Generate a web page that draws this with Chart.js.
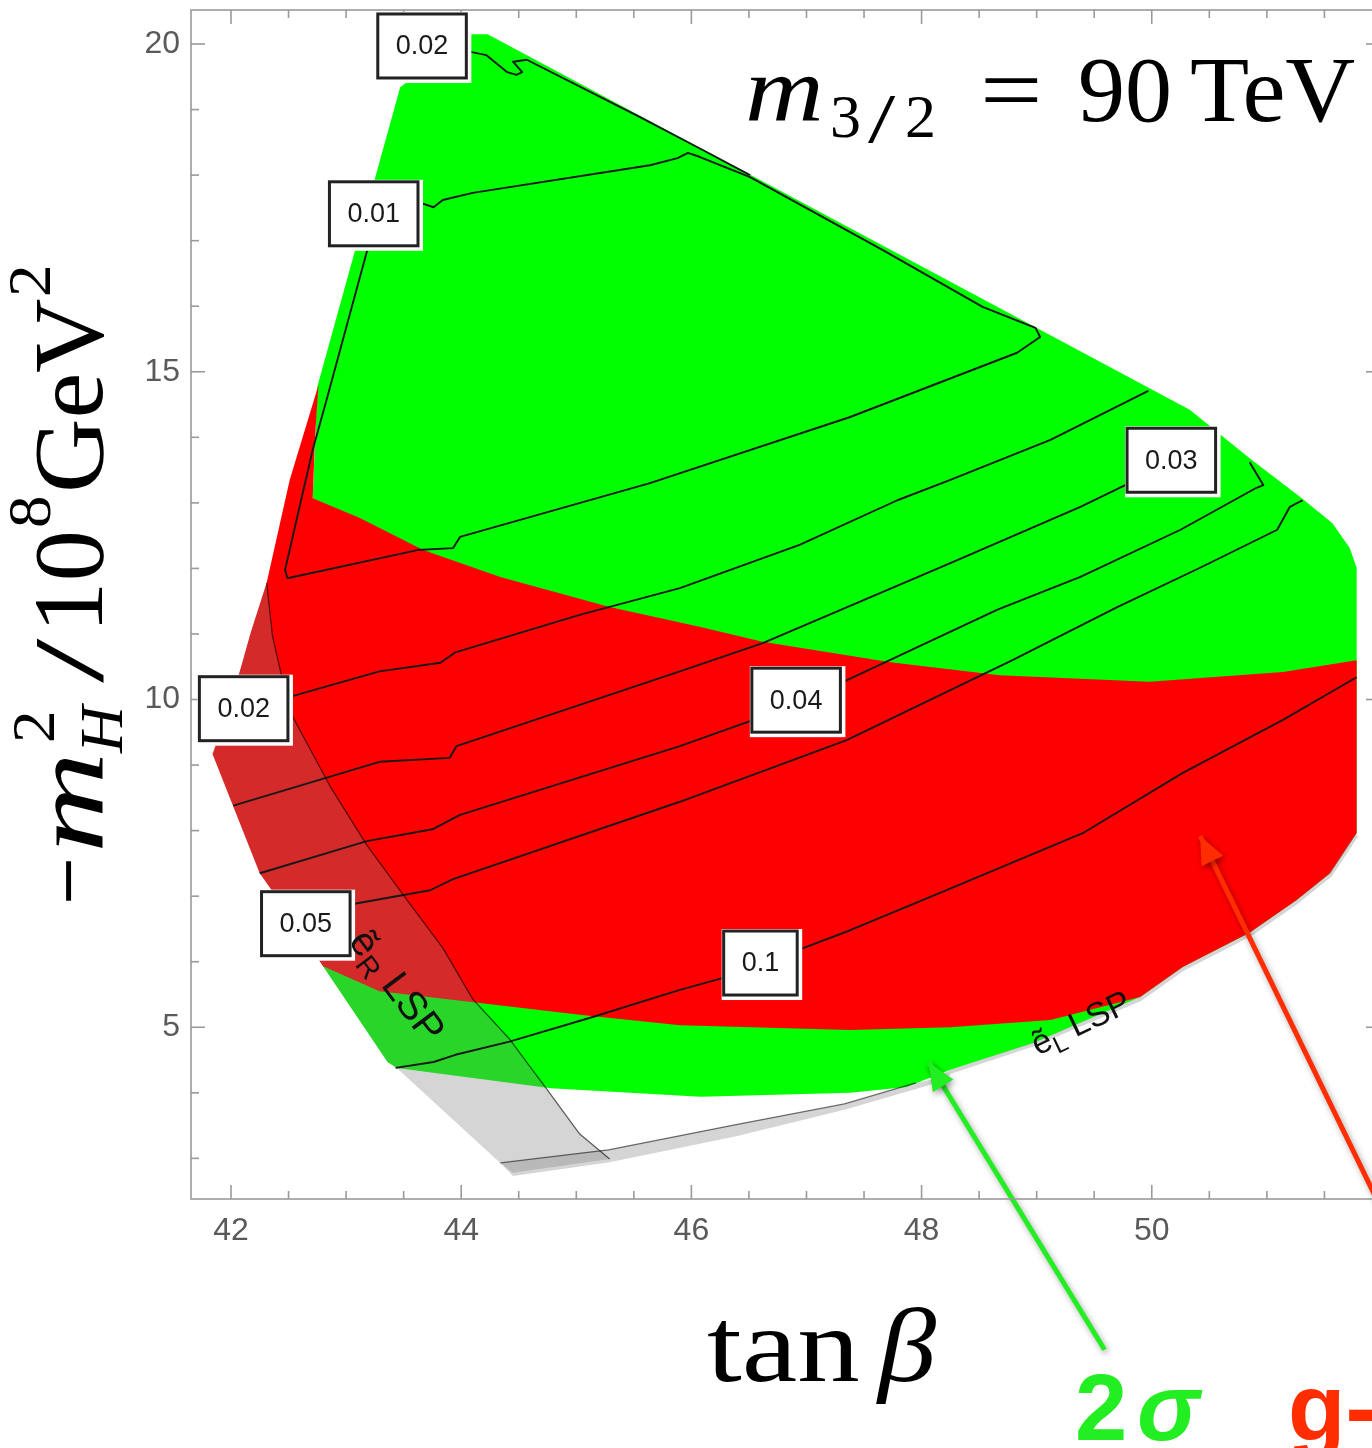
<!DOCTYPE html>
<html>
<head>
<meta charset="utf-8">
<script src="https://cdn.jsdelivr.net/npm/chart.js@4.4.0/dist/chart.umd.min.js"></script>
<style>
  html, body { margin: 0; padding: 0; background: #fff; overflow: hidden; }
</style>
</head>
<body>
<canvas id="regionChart" width="1380" height="1448"></canvas>
<script>
// outlines as [tan beta, -m_H^2 / 10^8 GeV^2]
const greenRegion = [
    [43.47, 19.34], [44.08, 20.15], [44.23, 20.15], [50.33, 14.42], [50.85, 13.68], [51.29, 13.09],
    [51.57, 12.69], [51.72, 12.31], [51.78, 12.01], [51.78, 7.96], [51.55, 7.35], [51.26, 6.94],
    [50.85, 6.44], [50.27, 5.92], [49.90, 5.46], [48.97, 4.76], [48.25, 4.35], [47.87, 4.09],
    [47.38, 4.00], [46.08, 3.94], [44.78, 4.07], [43.44, 4.38], [43.36, 4.47], [42.80, 5.93],
    [42.71, 13.07], [42.75, 14.77]
];
const redRegion = [
    [42.76, 14.80], [42.51, 13.35], [42.31, 11.78], [42.17, 11.01], [42.08, 10.45], [41.95, 9.69],
    [41.84, 9.17], [41.99, 8.50], [42.25, 7.35], [42.51, 6.70], [42.80, 5.93], [43.29, 5.55],
    [44.16, 5.37], [45.03, 5.19], [45.90, 5.03], [47.38, 4.96], [48.25, 5.00], [49.12, 5.11],
    [49.90, 5.46], [50.27, 5.92], [50.85, 6.44], [51.26, 6.94], [51.55, 7.35], [51.78, 7.96],
    [51.78, 10.60], [51.14, 10.42], [49.98, 10.27], [48.68, 10.37], [47.73, 10.57], [46.62, 10.88],
    [46.07, 11.11], [45.29, 11.41], [44.34, 11.87], [43.67, 12.28], [43.12, 12.77], [42.71, 13.07],
    [42.73, 14.00]
];
// selectron-R LSP corner (grey shading)
const stauRegion = [
    [42.31, 11.78], [42.36, 10.97], [42.51, 9.82], [42.86, 8.68], [43.18, 7.78], [43.53, 6.94],
    [43.84, 6.21], [44.10, 5.43], [44.42, 4.82], [44.75, 4.04], [45.03, 3.37], [45.29, 2.99],
    [44.45, 2.78], [44.34, 2.93], [43.44, 4.38], [43.36, 4.47], [42.80, 5.93], [42.51, 6.70],
    [42.25, 7.35], [41.99, 8.50], [41.84, 9.17], [41.95, 9.69], [42.08, 10.45], [42.17, 11.01]
];
const lspLine = [
    [42.31, 11.78], [42.36, 10.97], [42.51, 9.82], [42.86, 8.68], [43.18, 7.78], [43.53, 6.94],
    [43.84, 6.21], [44.10, 5.43], [44.42, 4.82], [44.75, 4.04], [45.03, 3.37], [45.29, 2.99]
];
const lowerBand = [
    [44.34, 2.93], [45.28, 3.13], [46.40, 3.52], [47.33, 3.83], [47.95, 4.15], [48.16, 4.23],
    [48.13, 4.15], [47.33, 3.74], [46.40, 3.34], [45.29, 2.94], [44.45, 2.73]
];
const bandEdge = [[44.34, 2.93], [45.28, 3.13], [46.40, 3.52], [47.33, 3.83], [47.95, 4.15]];
const outerEdge = [
    [48.13, 4.17], [48.25, 4.32], [48.97, 4.74], [49.90, 5.43], [50.27, 5.89], [50.85, 6.41],
    [51.26, 6.91], [51.55, 7.32], [51.78, 7.93]
];

// contour lines
const contourTop002 = [
    [43.82, 19.98], [44.08, 19.88], [44.22, 19.83], [44.40, 19.57], [44.48, 19.53], [44.53, 19.57],
    [44.45, 19.73], [44.57, 19.76], [45.55, 18.89], [46.07, 18.41], [46.51, 18.00]
];
const contour001 = [
    [42.49, 11.85], [43.62, 12.28], [43.93, 12.31], [43.99, 12.48], [45.64, 13.30], [47.38, 14.31],
    [48.83, 15.29], [49.03, 15.53], [48.99, 15.67], [48.53, 15.99], [47.66, 16.86], [46.51, 17.97],
    [46.07, 18.28], [45.97, 18.34], [45.88, 18.26], [45.64, 18.15], [44.10, 17.73], [43.84, 17.62],
    [43.76, 17.51], [43.66, 17.57], [43.38, 17.39], [43.18, 16.83], [42.83, 14.57], [42.71, 13.81],
    [42.47, 11.98], [42.49, 11.85]
];
const contour002 = [
    [42.17, 9.92], [42.51, 10.04], [43.29, 10.43], [43.82, 10.56], [43.95, 10.72], [44.10, 10.80],
    [45.03, 11.29], [45.90, 11.70], [46.94, 12.36], [47.79, 13.04], [48.25, 13.35], [49.12, 13.96],
    [49.97, 14.71]
];
const contour003 = [
    [42.02, 8.38], [43.29, 9.05], [43.90, 9.11], [43.96, 9.29], [45.90, 10.43], [46.62, 10.86],
    [48.25, 12.08], [49.38, 12.94], [50.25, 13.68]
];
const contour004 = [
    [42.25, 7.35], [43.18, 7.84], [43.75, 8.02], [43.99, 8.24], [45.90, 9.29], [46.54, 9.69],
    [47.32, 10.27], [48.66, 11.37], [49.38, 11.87], [50.25, 12.59], [50.91, 13.23], [50.97, 13.27],
    [50.85, 13.62]
];
const contour005 = [
    [42.86, 6.83], [43.06, 6.88], [43.73, 7.09], [43.93, 7.26], [45.90, 8.44], [47.35, 9.38],
    [48.79, 10.60], [49.70, 11.41], [50.42, 12.01], [51.09, 12.59], [51.20, 12.94], [51.31, 13.04]
];
const contour01 = [
    [43.43, 4.38], [43.76, 4.47], [43.95, 4.58], [44.42, 4.78], [45.15, 5.16], [45.90, 5.57],
    [46.27, 5.75], [46.93, 6.18], [47.38, 6.48], [48.16, 7.05], [49.40, 7.96], [50.27, 8.88],
    [51.14, 9.69], [51.78, 10.34]
];

const contourLabels = ['0.02', '0.01', '0.03', '0.02', '0.04', '0.05', '0.1'];
const contourLabelX = [43.66, 43.24, 50.17, 42.11, 46.91, 42.65, 46.60];
const contourLabelY = [19.97, 17.41, 13.65, 9.86, 9.99, 6.58, 5.98];

const lspSubscripts = ['R', 'L'];
const lspLabelX = [43.45, 49.38];
const lspLabelY = [5.64, 5.08];

// annotation arrows: [tail, tip]
const greenArrow = [[49.59, 0.08], [48.06, 4.47]];
const redArrow = [[52.33, 1.02], [50.42, 7.92]];

const xTickValues = [42, 44, 46, 48, 50];
const xMinorTicks = [42.5, 43, 43.5, 44.5, 45, 45.5, 46.5, 47, 47.5, 48.5, 49, 49.5, 50.5, 51, 51.5];
const yTickValues = [5, 10, 15, 20];
const yMinorTicks = [3, 4, 6, 7, 8, 9, 11, 12, 13, 14, 16, 17, 18, 19];

const GREEN = '#00ff00';
const RED = '#ff0000';
const SHADE = 'rgba(128,128,128,0.33)';
const SERIF = '"Liberation Serif", "Times New Roman", serif';
const SANS = '"Liberation Sans", Arial, sans-serif';

const toXY = pts => pts.map(p => ({x: p[0], y: p[1]}));

function region(label, pts, color, order) {
    return {
        label: label, data: toXY(pts), fill: 'shape', backgroundColor: color,
        borderColor: 'rgba(0,0,0,0)', borderWidth: 0, pointRadius: 0, order: order
    };
}

function curve(label, pts, color, width, order) {
    return {
        label: label, data: toXY(pts), fill: false, borderColor: color,
        borderWidth: width, pointRadius: 0, order: order, borderJoinStyle: 'round'
    };
}

function arrow(label, pts, color) {
    return {
        label: label, data: toXY(pts), fill: false, borderColor: color, backgroundColor: color,
        borderWidth: 5, pointRadius: 0, order: 1, clip: false, arrow: true
    };
}

function piece(ctx, text, font, x, y, sx) {
    ctx.save();
    ctx.font = font;
    ctx.translate(x, y);
    ctx.scale(sx || 1, 1);
    ctx.textAlign = 'left';
    ctx.textBaseline = 'alphabetic';
    ctx.fillText(text, 0, 0);
    ctx.restore();
}

function drawBox(ctx, text, cx, cy) {
    ctx.font = '27px ' + SANS;
    const w = ctx.measureText(text).width + 36;
    const h = 64;
    const x0 = cx - w / 2, y0 = cy - h / 2;
    ctx.fillStyle = '#fff';
    ctx.fillRect(x0 - 2, y0 - 2, w + 7, h + 7);
    ctx.strokeStyle = '#222';
    ctx.lineWidth = 3;
    ctx.strokeRect(x0, y0, w, h);
    ctx.fillStyle = '#1a1a1a';
    ctx.textAlign = 'center';
    ctx.textBaseline = 'middle';
    ctx.fillText(text, cx, cy + 1);
}

function drawLsp(ctx, cx, cy, angle, sub, size) {
    const big = size + 'px ' + SANS, small = Math.round(size * 0.72) + 'px ' + SANS;
    ctx.save();
    ctx.translate(cx, cy);
    ctx.rotate(angle);
    ctx.font = big;
    const w1 = ctx.measureText('ẽ').width;
    const w3 = ctx.measureText(' LSP').width;
    ctx.font = small;
    const w2 = ctx.measureText(sub).width;
    let x = -(w1 + w2 + w3) / 2;
    ctx.fillStyle = '#111';
    ctx.textAlign = 'left';
    ctx.textBaseline = 'alphabetic';
    ctx.font = big; ctx.fillText('ẽ', x, size * 0.35); x += w1;
    ctx.font = small; ctx.fillText(sub, x, size * 0.56); x += w2;
    ctx.font = big; ctx.fillText(' LSP', x, size * 0.35);
    ctx.restore();
}

const decorPlugin = {
    id: 'decor',
    beforeDatasetDraw(chart, args) {
        if (chart.data.datasets[args.index].arrow) {
            const ctx = chart.ctx;
            ctx.save();
            ctx.shadowColor = 'rgba(0,0,0,0.35)';
            ctx.shadowBlur = 6;
            ctx.shadowOffsetX = 2;
            ctx.shadowOffsetY = 3;
        }
    },
    afterDatasetDraw(chart, args) {
        const ds = chart.data.datasets[args.index];
        if (!ds.arrow) return;
        const ctx = chart.ctx;
        const pts = args.meta.data;
        const tail = pts[pts.length - 2], tip = pts[pts.length - 1];
        const ang = Math.atan2(tip.y - tail.y, tip.x - tail.x);
        const len = 28, half = 12;
        ctx.fillStyle = ds.borderColor;
        ctx.beginPath();
        ctx.moveTo(tip.x, tip.y);
        ctx.lineTo(tip.x - len * Math.cos(ang) + half * Math.sin(ang), tip.y - len * Math.sin(ang) - half * Math.cos(ang));
        ctx.lineTo(tip.x - len * Math.cos(ang) - half * Math.sin(ang), tip.y - len * Math.sin(ang) + half * Math.cos(ang));
        ctx.closePath();
        ctx.fill();
        ctx.restore();
    },
    afterDraw(chart) {
        const {ctx, chartArea: a} = chart;
        const xs = chart.scales.x, ys = chart.scales.y;

        // frame with inward ticks
        ctx.save();
        ctx.strokeStyle = '#9a9a9a';
        ctx.lineWidth = 1.6;
        ctx.strokeRect(a.left, a.top, a.right - a.left, a.bottom - a.top);
        const tick = (px, py, dx, dy) => {
            ctx.beginPath(); ctx.moveTo(px, py); ctx.lineTo(px + dx, py + dy); ctx.stroke();
        };
        xTickValues.forEach(v => { const p = xs.getPixelForValue(v); tick(p, a.bottom, 0, -14); tick(p, a.top, 0, 14); });
        xMinorTicks.forEach(v => { const p = xs.getPixelForValue(v); tick(p, a.bottom, 0, -8); tick(p, a.top, 0, 8); });
        yTickValues.forEach(v => { const p = ys.getPixelForValue(v); tick(a.left, p, 14, 0); tick(a.right, p, -14, 0); });
        yMinorTicks.forEach(v => { const p = ys.getPixelForValue(v); tick(a.left, p, 8, 0); tick(a.right, p, -8, 0); });
        ctx.restore();

        // contour labels
        ctx.save();
        contourLabels.forEach((t, i) => {
            drawBox(ctx, t, xs.getPixelForValue(contourLabelX[i]), ys.getPixelForValue(contourLabelY[i]));
        });
        drawLsp(ctx, xs.getPixelForValue(lspLabelX[0]), ys.getPixelForValue(lspLabelY[0]), 0.925, lspSubscripts[0], 40);
        drawLsp(ctx, xs.getPixelForValue(lspLabelX[1]), ys.getPixelForValue(lspLabelY[1]), -0.447, lspSubscripts[1], 34);
        ctx.restore();

        // m_{3/2} = 90 TeV
        ctx.save();
        ctx.fillStyle = '#000';
        piece(ctx, 'm', 'italic 94px ' + SERIF, 745, 121, 1.16);
        piece(ctx, '3', '62px ' + SERIF, 830, 137);
        piece(ctx, '/', '70px ' + SERIF, 868, 142, 1.4);
        piece(ctx, '2', '62px ' + SERIF, 905, 137);
        piece(ctx, '=', '94px ' + SERIF, 980, 121, 1.18);
        piece(ctx, '90', '94px ' + SERIF, 1078, 121);
        piece(ctx, 'TeV', '94px ' + SERIF, 1190, 121, 1.03);

        // x title
        piece(ctx, 'tan', '106px ' + SERIF, 707, 1381, 1.18);
        piece(ctx, 'β', 'italic 106px ' + SERIF, 878, 1381, 1.1);

        // y title
        ctx.save();
        ctx.translate(102, 905);
        ctx.rotate(-Math.PI / 2);
        piece(ctx, '−', '100px ' + SERIF, 0, 0, 0.85);
        piece(ctx, 'm', 'italic 100px ' + SERIF, 52, 0, 1.4);
        piece(ctx, '2', '62px ' + SERIF, 162, -48, 1.05);
        piece(ctx, 'H', 'italic 62px ' + SERIF, 152, 20, 1.05);
        piece(ctx, '/', '100px ' + SERIF, 222, 0, 1.6);
        piece(ctx, '10', '100px ' + SERIF, 272, 0, 1.03);
        piece(ctx, '8', '62px ' + SERIF, 377, -52, 1.05);
        piece(ctx, 'GeV', '100px ' + SERIF, 412, 0, 1.03);
        piece(ctx, '2', '62px ' + SERIF, 608, -52, 1.05);
        ctx.restore();

        // legend words under the plot
        ctx.fillStyle = 'rgb(34,238,34)';
        piece(ctx, '2', 'bold 94px ' + SANS, 1075, 1440);
        piece(ctx, 'σ', 'italic bold 94px ' + SANS, 1137, 1440);
        ctx.fillStyle = 'rgb(255,45,0)';
        piece(ctx, 'g-2', 'bold 94px ' + SANS, 1288, 1440);
        ctx.restore();
    }
};

const ctx = document.getElementById('regionChart').getContext('2d');
const regionChart = new Chart(ctx, {
    type: 'line',
    data: {
        datasets: [
            region('2 sigma', greenRegion, GREEN, 20),
            region('g-2', redRegion, RED, 19),
            region('eR LSP', stauRegion, SHADE, 18),
            region('lower band', lowerBand, SHADE, 17),
            curve('outer edge', outerEdge, 'rgba(128,128,128,0.33)', 4, 16),
            curve('0.02 top', contourTop002, '#181818', 1.9, 10),
            curve('0.01', contour001, '#181818', 1.9, 10),
            curve('0.02', contour002, '#181818', 1.9, 10),
            curve('0.03', contour003, '#181818', 1.9, 10),
            curve('0.04', contour004, '#181818', 1.9, 10),
            curve('0.05', contour005, '#181818', 1.9, 10),
            curve('0.1', contour01, '#181818', 1.9, 10),
            curve('LSP boundary', lspLine, 'rgba(0,0,0,0.6)', 1.3, 9),
            curve('band edge', bandEdge, 'rgba(0,0,0,0.55)', 1.3, 9),
            arrow('green arrow', greenArrow, 'rgb(34,238,34)'),
            arrow('red arrow', redArrow, 'rgb(255,45,0)')
        ]
    },
    options: {
        responsive: false,
        animation: false,
        events: [],
        layout: { padding: { top: 10, left: 0, right: 0, bottom: 0 } },
        plugins: { legend: { display: false }, tooltip: { enabled: false } },
        elements: { line: { tension: 0 }, point: { radius: 0 } },
        scales: {
            x: {
                type: 'linear', min: 41.6525, max: 51.983,
                grid: { display: false, drawTicks: false },
                border: { display: false },
                ticks: { font: { family: SANS, size: 32 }, color: '#5a5a5a', padding: 13, autoSkip: false, maxRotation: 0 },
                afterBuildTicks: s => { s.ticks = xTickValues.map(v => ({value: v})); },
                afterFit: s => { s.height = 249; s.paddingLeft = 0; s.paddingRight = 0; }
            },
            y: {
                type: 'linear', min: 2.380, max: 20.519,
                grid: { display: false, drawTicks: false },
                border: { display: false },
                ticks: { font: { family: SANS, size: 32 }, color: '#5a5a5a', padding: 11, autoSkip: false },
                afterBuildTicks: s => { s.ticks = yTickValues.map(v => ({value: v})); },
                afterFit: s => { s.width = 191; s.paddingTop = 0; s.paddingBottom = 0; }
            }
        }
    },
    plugins: [decorPlugin]
});
</script>
</body>
</html>
